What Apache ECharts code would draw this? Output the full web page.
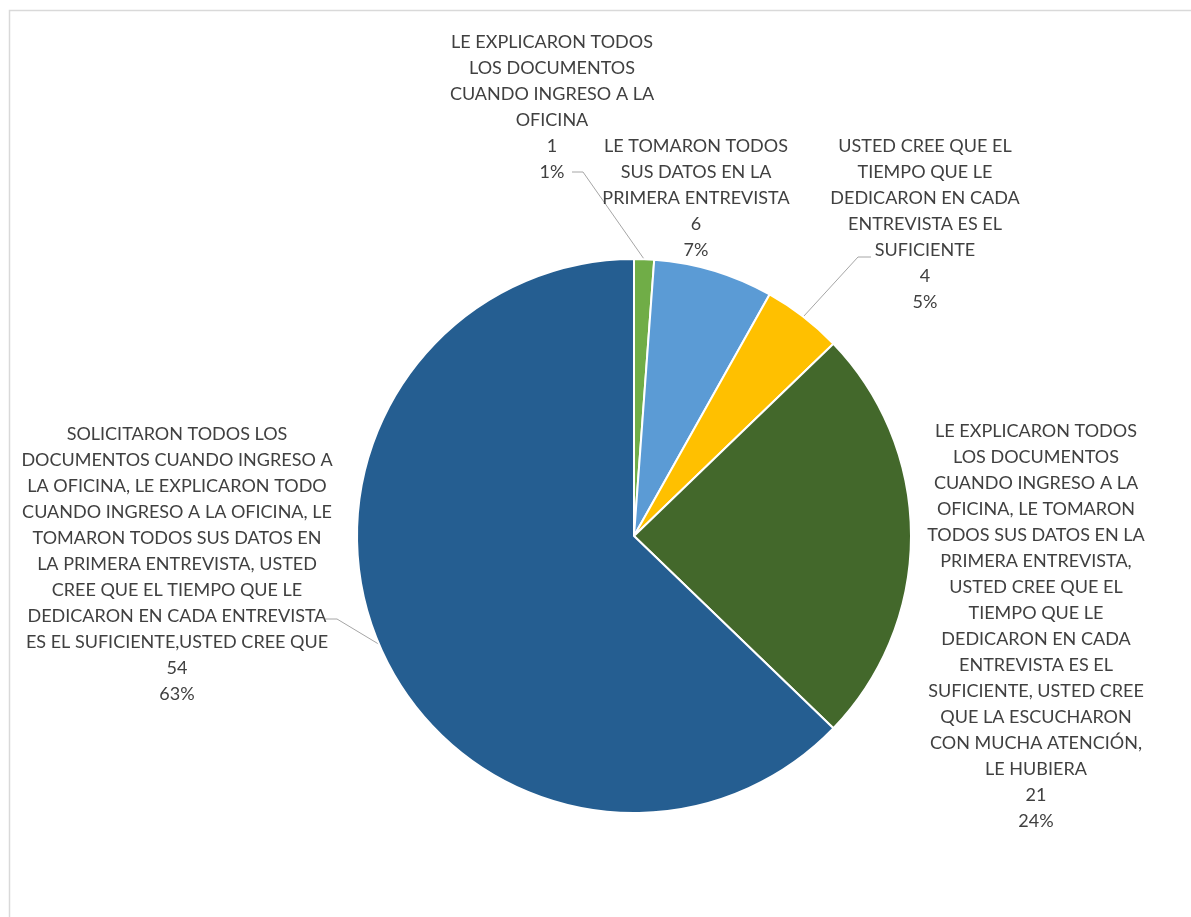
<!DOCTYPE html>
<html>
<head>
<meta charset="utf-8">
<script src="https://cdn.jsdelivr.net/npm/echarts@6/dist/echarts.min.js"></script>
<style>
html,body{margin:0;padding:0;background:#fff;}
#chart{width:1191px;height:917px;}
</style>
</head>
<body>
<div id="chart"></div>
<script>
// Data
const categories = [
  'LE EXPLICARON TODOS\nLOS DOCUMENTOS\nCUANDO INGRESO A LA\nOFICINA',
  'LE TOMARON TODOS\nSUS DATOS EN LA\nPRIMERA ENTREVISTA',
  'USTED CREE QUE EL\nTIEMPO QUE LE\nDEDICARON EN CADA\nENTREVISTA ES EL\nSUFICIENTE',
  'LE EXPLICARON TODOS\nLOS DOCUMENTOS\nCUANDO INGRESO A LA\nOFICINA, LE TOMARON\nTODOS SUS DATOS EN LA\nPRIMERA ENTREVISTA,\nUSTED CREE QUE EL\nTIEMPO QUE LE\nDEDICARON EN CADA\nENTREVISTA ES EL\nSUFICIENTE, USTED CREE\nQUE LA ESCUCHARON\nCON MUCHA ATENCIÓN,\nLE HUBIERA',
  'SOLICITARON TODOS LOS\nDOCUMENTOS CUANDO INGRESO A\nLA OFICINA, LE EXPLICARON TODO\nCUANDO INGRESO A LA OFICINA, LE\nTOMARON TODOS SUS DATOS EN\nLA PRIMERA ENTREVISTA, USTED\nCREE QUE EL TIEMPO QUE LE\nDEDICARON EN CADA ENTREVISTA\nES EL SUFICIENTE,USTED CREE QUE'
];
const values = [1, 6, 4, 21, 54];
const colors = ['#70AD47', '#5B9BD5', '#FFC000', '#43682B', '#255E91'];

// label layout (label anchor: center x, top y)
const labelPos = [[552, 29], [696, 133], [925, 133], [1036, 418], [177, 421]];
// leader lines: [elbowX, elbowY, endX] or null
const leaders = [[583, 172, 572], null, [858, 257, 871], null, [337, 619, 325]];

const chart = echarts.init(document.getElementById('chart'));
const FONT = 'Lato';
chart.setOption({
  backgroundColor: '#fff',
  animation: false,
  graphic: [{
    type: 'rect',
    shape: {x: 9.5, y: 10.5, width: 1200, height: 950},
    style: {fill: 'none', stroke: '#d9d9d9', lineWidth: 1.5},
    silent: true, z: -1
  }],
  series: [{
    type: 'pie',
    center: [634, 536],
    radius: 277,
    startAngle: 90,
    clockwise: true,
    percentPrecision: 0,
    itemStyle: {borderColor: '#fff', borderWidth: 2},
    label: {
      show: true,
      position: 'outside',
      formatter: '{b}\n{c}\n{d}%',
      fontFamily: FONT,
      fontSize: 18,
      lineHeight: 26,
      color: '#404040',
      align: 'center'
    },
    labelLine: {show: true, lineStyle: {color: '#a6a6a6', width: 1}, length: 10, length2: 10},
    labelLayout: function (p) {
      const i = p.dataIndex;
      const pos = labelPos[i];
      const out = {x: pos[0], y: pos[1], align: 'center', verticalAlign: 'top'};
      const ld = leaders[i];
      if (ld && p.labelLinePoints) {
        out.labelLinePoints = [p.labelLinePoints[0], [ld[0], ld[1]], [ld[2], ld[1]]];
      }
      return out;
    },
    data: values.map((v, i) => ({
      name: categories[i],
      value: v,
      itemStyle: {color: colors[i]},
      labelLine: {show: leaders[i] !== null}
    }))
  }]
});
</script>
</body>
</html>
